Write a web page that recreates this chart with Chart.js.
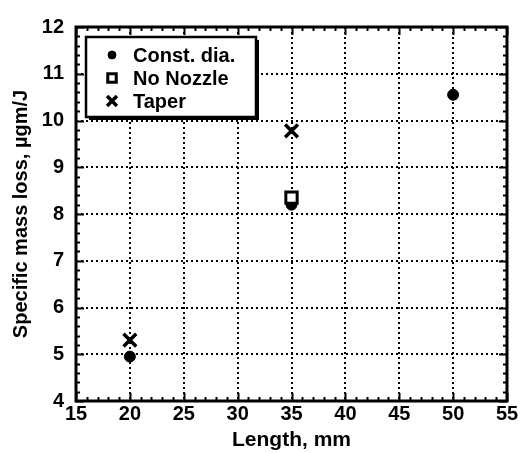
<!DOCTYPE html>
<html>
<head>
<meta charset="utf-8">
<script src="https://cdn.jsdelivr.net/npm/chart.js@4.4.1/dist/chart.umd.min.js"></script>
<style>
  html, body { margin: 0; padding: 0; background: #fff; }
  #wrap { width: 521px; height: 453px; }
</style>
</head>
<body>
<div id="wrap"><canvas id="chart-mass"></canvas></div>
<script>
const seriesNames = ['Const. dia.', 'No Nozzle', 'Taper'];
const constDiaX = [20, 35, 50];
const constDiaY = [4.95, 8.2, 10.55];
const noNozzleX = [35];
const noNozzleY = [8.35];
const taperX = [20, 35];
const taperY = [5.3, 9.78];

const xTicks = [15, 20, 25, 30, 35, 40, 45, 50, 55];
const yTicks = [4, 5, 6, 7, 8, 9, 10, 11, 12];

const FONT = "'Liberation Sans', Arial, sans-serif";
const pts = (xs, ys) => xs.map((x, i) => ({ x, y: ys[i] }));

// frame, inward ticks and the boxed legend
const framePlugin = {
  id: 'frame',
  afterDatasetsDraw(chart) {
    const { ctx, chartArea: a, scales: { x, y } } = chart;
    ctx.save();
    ctx.strokeStyle = '#000';
    ctx.lineWidth = 2;
    ctx.beginPath();
    for (let v = xTicks[0]; v <= xTicks[xTicks.length - 1]; v += 1) {
      const px = Math.round(x.getPixelForValue(v)) + 0.5;
      const len = v % 5 === 0 ? 8 : 4;
      ctx.moveTo(px, a.bottom); ctx.lineTo(px, a.bottom - len);
      ctx.moveTo(px, a.top); ctx.lineTo(px, a.top + len);
    }
    for (let k = 0; k <= (yTicks[yTicks.length - 1] - yTicks[0]) * 5; k++) {
      const v = yTicks[0] + k / 5;
      const py = Math.round(y.getPixelForValue(v)) + 0.5;
      const len = k % 5 === 0 ? 8 : 4;
      ctx.moveTo(a.left, py); ctx.lineTo(a.left + len, py);
      ctx.moveTo(a.right, py); ctx.lineTo(a.right - len, py);
    }
    ctx.stroke();
    ctx.lineWidth = 3;
    ctx.strokeRect(a.left, a.top, a.right - a.left, a.bottom - a.top);

    // legend
    const lx = a.left + 10, ly = a.top + 10, lw = 170, lh = 80;
    ctx.fillStyle = '#000';
    ctx.fillRect(lx + 3, ly + 3, lw, lh);
    ctx.fillStyle = '#fff';
    ctx.fillRect(lx, ly, lw, lh);
    ctx.lineWidth = 2.5;
    ctx.strokeRect(lx, ly, lw, lh);
    ctx.font = 'bold 20px ' + FONT;
    ctx.textBaseline = 'middle';
    chart.data.datasets.forEach((ds, i) => {
      const cy = ly + 18 + i * 23;
      const mx = lx + 26;
      ctx.fillStyle = ds.backgroundColor;
      ctx.strokeStyle = '#000';
      ctx.lineWidth = ds.borderWidth;
      Chart.helpers.drawPoint(ctx, { pointStyle: ds.pointStyle, radius: ds.legendRadius, borderWidth: ds.borderWidth }, mx, cy);
      ctx.fillStyle = '#000';
      ctx.fillText(ds.label, lx + 47, cy + 1);
    });
    ctx.restore();
  },
};

const gridOpts = { color: '#000', lineWidth: 2, drawTicks: false };
const borderOpts = { display: false, dash: [2, 3] };

new Chart(document.getElementById('chart-mass'), {
  type: 'scatter',
  data: {
    datasets: [
      {
        label: seriesNames[0],
        data: pts(constDiaX, constDiaY),
        pointStyle: 'circle',
        radius: 5.5,
        legendRadius: 4,
        backgroundColor: '#000',
        borderColor: '#000',
        borderWidth: 1,
        order: 1,
      },
      {
        label: seriesNames[1],
        data: pts(noNozzleX, noNozzleY),
        pointStyle: 'rect',
        radius: 8,
        legendRadius: 6,
        backgroundColor: '#fff',
        borderColor: '#000',
        borderWidth: 3,
        order: 0,
      },
      {
        label: seriesNames[2],
        data: pts(taperX, taperY),
        pointStyle: 'crossRot',
        radius: 9,
        legendRadius: 7,
        backgroundColor: '#000',
        borderColor: '#000',
        borderWidth: 3.5,
        order: 2,
      },
    ],
  },
  options: {
    responsive: true,
    maintainAspectRatio: false,
    animation: false,
    events: [],
    layout: { padding: { top: 27, right: 14, left: 0, bottom: 0 } },
    plugins: { legend: { display: false }, tooltip: { enabled: false } },
    scales: {
      x: {
        type: 'linear',
        min: 15,
        max: 55,
        afterBuildTicks: s => { s.ticks = xTicks.map(v => ({ value: v })); },
        afterFit: s => { s.height = 52; },
        border: borderOpts,
        grid: gridOpts,
        ticks: { color: '#000', padding: 1, maxRotation: 0, font: { family: FONT, size: 20, weight: 'bold' } },
        title: { display: true, text: 'Length, mm', color: '#000', padding: { top: 0, bottom: 0 }, font: { family: FONT, size: 21, weight: 'bold' } },
      },
      y: {
        type: 'linear',
        min: 4,
        max: 12,
        afterBuildTicks: s => { s.ticks = yTicks.map(v => ({ value: v })); },
        afterFit: s => { s.width = 76; },
        border: borderOpts,
        grid: gridOpts,
        ticks: { color: '#000', padding: 12, font: { family: FONT, size: 20, weight: 'bold' } },
        title: { display: true, text: 'Specific mass loss, µgm/J', color: '#000', padding: { top: 9, bottom: 0 }, font: { family: FONT, size: 20, weight: 'bold' } },
      },
    },
  },
  plugins: [framePlugin],
});
</script>
</body>
</html>
